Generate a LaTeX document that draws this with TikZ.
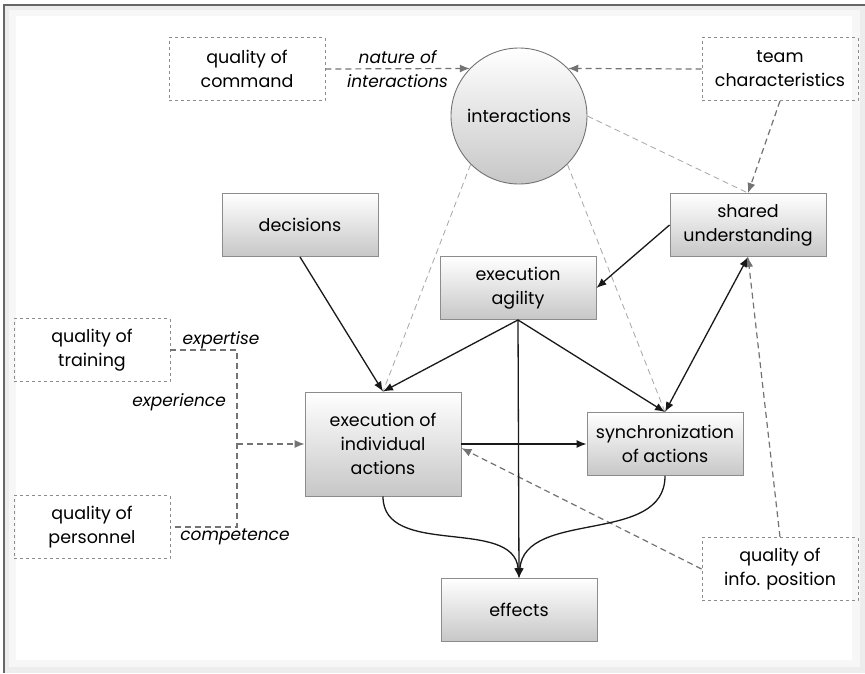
\documentclass[tikz,border=0pt]{standalone}
\usepackage{fontspec}
\setmainfont{Poppins}
\usetikzlibrary{arrows.meta}
\begin{document}
\begin{tikzpicture}[x=1pt,y=-1pt,
    font=\fontsize{17.5}{24}\selectfont,
    sbox/.style={draw=black!45,line width=0.9pt,top color=white,bottom color=black!22,
        minimum width=156pt,minimum height=63pt,align=center,inner sep=2pt},
    dbox/.style={draw=black!45,dashed,line width=0.9pt,
        minimum width=156pt,minimum height=63pt,align=center,inner sep=2pt},
    circ/.style={circle,draw=black!55,line width=0.9pt,top color=white,bottom color=black!22,
        minimum size=136pt,inner sep=0pt},
    lbl/.style={text=black,font=\fontsize{17}{24}\selectfont\itshape,inner sep=1pt},
    sarr/.style={black!90,line width=1.3pt,-{Latex[length=10pt,width=8pt]}},
    dline/.style={black!55,dashed,dash pattern=on 6pt off 4pt,line width=1.2pt},
    darr/.style={dline,-{Latex[length=10pt,width=8pt]}},
    lline/.style={black!35,dash pattern=on 6pt off 4pt,line width=0.8pt}]
\useasboundingbox (0,0) rectangle (865,673);
% frame
\fill[black!7] (4,5) rectangle (865,673);
\fill[black!3] (9,10) rectangle (860,667);
\fill[white] (16,16) rectangle (852,660);
\draw[black!60,line width=1.5pt] (4,673) -- (4,5) -- (865,5);

\node[dbox] (cmd) at (247,69) {quality of\\command};
\node[circ] (inter) at (519,116) {interactions};
\node[dbox] (team) at (780,69) {team\\characteristics};
\node[sbox] (dec) at (300,225) {decisions};
\node[sbox] (shared) at (748,225) {shared\\understanding};
\node[sbox] (agil) at (518,288) {execution\\agility};
\node[sbox,minimum height=104pt] (ind) at (383,444) {execution of\\individual\\actions};
\node[sbox] (sync) at (665,444) {synchronization\\of actions};
\node[sbox] (eff) at (519,610) {effects};
\node[dbox] (train) at (92,350) {quality of\\training};
\node[dbox] (pers) at (92,527) {quality of\\personnel};
\node[dbox] (info) at (780,569) {quality of\\info. position};
\coordinate (jn) at (237,444);

\draw[lline] (inter.east) -- (shared.north);
\draw[lline] (inter.225) -- (ind.north);
\draw[lline] (inter.-45) -- (sync.north);

\draw[darr] (cmd.east) -- node[lbl,align=center] (nat) {nature of\\interactions} (inter.136);
\draw[darr] (team.west) -- (inter.44);
\draw[darr] (team.south) -- (shared.north);
\draw[dline] (train.east) -| (jn) |- (pers.east);
\draw[darr] (jn) -- (ind.west);
\draw[darr] (info.west) -- (ind.-3);
\draw[darr] (info.north) -- (shared.south);
\node[lbl] (expt) at (221,340) {expertise};
\node[lbl,anchor=east] (expr) at (227,402) {experience};
\node[lbl] (comp) at (235,537) {competence};

\draw[sarr] (dec.south) -- (ind.north);
\draw[sarr] (agil.south) -- (ind.north);
\draw[sarr] (agil.south) -- (sync.north);
\draw[sarr] (shared.west) -- (agil.east);
\draw[sarr,{Latex[length=10pt,width=8pt]}-{Latex[length=10pt,width=8pt]}] (shared.south) -- (sync.north);
\draw[sarr] (ind.east) -- (sync.west);
\draw[sarr] (ind.south) to[out=-90,in=95] (eff.north);
\draw[sarr] (sync.south) to[out=-90,in=85] (eff.north);
\draw[sarr] (agil.south) -- (eff.north);
\end{tikzpicture}
\end{document}
